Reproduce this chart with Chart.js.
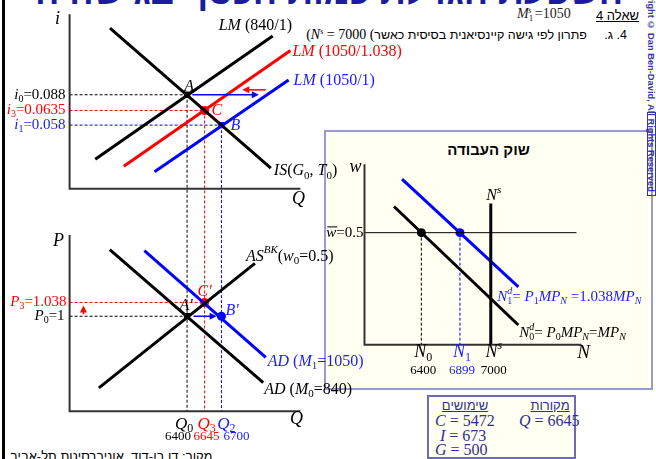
<!DOCTYPE html>
<html>
<head>
<meta charset="utf-8">
<script src="https://cdn.jsdelivr.net/npm/chart.js@4/dist/chart.umd.min.js"></script>
<style>
  body { margin: 0; width: 656px; height: 459px; overflow: hidden; background: #fff; position: relative; }
  .abs { position: absolute; white-space: nowrap; }
  #leftBar { left: 2px; top: 0; width: 3px; height: 459px; background: #000; }
  #bigTitle { left: 35px; top: -29px; width: 588px; overflow: hidden; text-align: center; direction: rtl;
              font: bold 36px "Liberation Sans", sans-serif; color: #1c1c9e; }
  #qno { left: 596px; top: 8px; font: 13px "Liberation Sans", sans-serif; text-decoration: underline; }
  #money { left: 517px; top: 6px; font: 14px "Liberation Serif", serif; color: #222; }
  #q4 { right: 29px; top: 27px; font: 12.5px "Liberation Sans", sans-serif; direction: ltr; }
  #q4 .lt { font-family: "Liberation Serif", serif; font-size: 14px; }
  sup { font-size: 8px; vertical-align: 5px; }
  sub { font-size: 9px; vertical-align: -3px; }
  #mark { left: 646px; top: -26px; writing-mode: vertical-rl; font: bold 9.3px "Liberation Sans", sans-serif; color: #3535a8; z-index: 3; }
  #markBox { left: 647px; top: 112px; width: 7px; height: 82px; border: 1px solid #3535a8; z-index: 3; }
  #labor { left: 324px; top: 130px; width: 325px; height: 256px; background: #fffff2; border: 2px solid #9a9ad0; z-index: 1; }
  #laborTitle { left: 0; top: 9px; width: 325px; text-align: center; font: bold 15px "Liberation Sans", sans-serif; }
  #uses { left: 427px; top: 395px; width: 145px; height: 60px; background: #fffff2; border: 2px solid #6b6bb8; color: #2f2f90; }
  #uses .hd { font: 13px "Liberation Sans", sans-serif; text-decoration: underline; transform: translateX(-50%); }
  #uses .v { font: 16px "Liberation Serif", serif; }
  #src { left: 10px; top: 449px; direction: rtl; font: 13px "Liberation Sans", sans-serif; }
  #c { position: absolute; left: 0; top: 0; z-index: 5; }
</style>
</head>
<body>
<div class="abs" id="leftBar"></div>
<div class="abs" id="bigTitle">השפעת הגדלת כמות הכסף בגישה הקיינסיאנית</div>
<div class="abs" id="qno">שאלה 4</div>
<div class="abs" id="money"><i>M</i><sub>1</sub><sup style="margin-left:-5px"><i>s</i></sup> =1050</div>
<div class="abs" id="q4"><span class="lt">(<i>N</i><sup>s</sup> = 7000 (</span><span dir="rtl">4. ג.&nbsp;&nbsp;&nbsp;&nbsp;&nbsp;פתרון לפי גישה קיינסיאנית בסיסית כאשר</span></div>
<div class="abs" id="labor"><div class="abs" id="laborTitle">שוק העבודה</div></div>
<div class="abs" id="mark">Copyright © Dan Ben-David, All Rights Reserved</div>
<div class="abs" id="markBox"></div>
<div class="abs" id="uses"></div>
<div class="abs" id="src">מקור: דן בן-דוד, אוניברסיטת תל-אביב</div>
<canvas id="c" width="656" height="459"></canvas>

<script>
// --- IS-LM panel (schematic units, each axis 0..10) ---
const isCurve  = [[1.75, 9.21], [8.72, 1.18]];
const lm0Curve = [[1.11, 1.69], [8.80, 8.76]];   // LM (840/1)
const lm3Curve = [[2.35, 1.29], [9.57, 7.92]];   // LM (1050/1.038)
const lm1Curve = [[3.68, 0.98], [9.49, 6.24]];   // LM (1050/1)

// --- AS-AD panel ---
const asCurve  = [[1.27, 1.33], [8.03, 8.39]];
const ad0Curve = [[1.74, 9.17], [8.39, 1.63]];   // AD (M0=840)
const ad1Curve = [[3.24, 9.11], [8.50, 3.06]];   // AD (M1=1050)

// --- labour market ---
const nd0Curve = [[1.36, 7.66], [7.09, 1.09]];
const nd1Curve = [[1.73, 9.18], [7.09, 3.21]];
const nsLine   = [[5.82, 0], [5.82, 7.83]];
const wBarLine = [[0, 6.21], [9.77, 6.21]];

// equilibria: A, C, B  (A', C', B')
const qSubs   = ['0', '3', '2'];
const qValues = [6400, 6645, 6700];
const qPos    = [5.09, 5.85, 6.58];
const iSubs   = ['0', '3', '1'];
const iValues = ['0.088', '0.0635', '0.058'];
const iPos    = [5.39, 4.49, 3.65];
const pSubs   = ['0', '3'];
const pValues = ['1', '1.038'];
const pPos    = [5.39, 6.17, 5.39];
const nSubs   = ['0', '1', 's'];
const nValues = [6400, 6899, 7000];
const nPos    = [2.62, 4.40, 5.82];
const wBar = 0.5, wBarPos = 6.21;

// arrows
const lmShiftArrow = [[5.32, 5.39], [8.2, 5.39]];
const lmBackArrow  = [[8.5, 5.67], [7.48, 5.67]];
const adShiftArrow = [[5.37, 5.39], [6.37, 5.39]];
const priceArrow   = [[0.6, 5.5], [0.6, 6.0]];

// uses / sources table
const usesNames = ['C', 'I', 'G'];
const usesValues = [5472, 673, 500];
const sourcesNames = ['Q'];
const sourcesValues = [6645];

const lineColors = ['#000000', '#ff0000', '#0000ff'];
const textColors = ['#000000', '#ff0000', '#1a1aff'];
const FAM = '"Liberation Serif", "DejaVu Serif", serif';

// table
(function () {
  const box = document.getElementById('uses');
  let html = '<div class="abs hd" style="left:36px;top:1px">שימושים</div>' +
             '<div class="abs hd" style="left:121px;top:1px">מקורות</div>';
  const lefts = [6, 11, 6];
  usesNames.forEach((n, k) => {
    html += '<div class="abs v" style="left:' + lefts[k] + 'px;top:' + (15 + k * 14.5) + 'px"><i>' + n + '</i> = ' + usesValues[k] + '</div>';
  });
  sourcesNames.forEach((n, k) => {
    html += '<div class="abs v" style="left:90px;top:' + (15 + k * 14.5) + 'px"><i>' + n + '</i> = ' + sourcesValues[k] + '</div>';
  });
  box.innerHTML = html;
})();

const W = 656, H = 459;
function range(originPx, unitPx, sizePx, inverted) {
  return inverted ? { min: -(sizePx - originPx) / unitPx, max: originPx / unitPx }
                  : { min: -originPx / unitPx, max: (sizePx - originPx) / unitPx };
}
function axisScale(r) { return { type: 'linear', display: false, min: r.min, max: r.max }; }

function pts(arr) { return arr.map(p => ({ x: p[0], y: p[1] })); }
function curve(arr, color, width, xid, yid) {
  return { data: pts(arr), borderColor: color, borderWidth: width, pointRadius: 0,
           xAxisID: xid, yAxisID: yid, tension: 0, fill: false, borderCapStyle: 'butt' };
}
function dot(x, y, color, style, xid, yid) {
  return { data: [{ x: x, y: y }], showLine: false, pointRadius: 4.5,
           pointStyle: style, backgroundColor: color, borderColor: color, borderWidth: 0,
           xAxisID: xid, yAxisID: yid };
}

function rich(ctx, x, y, parts, size, align, color) {
  const segs = parts.map(p => {
    const t = p[0], s = p[1] || '';
    const small = s.includes('_') || s.includes('^');
    const fs = small ? Math.round(size * 0.68) : size;
    const font = (s.includes('i') ? 'italic ' : '') + fs + 'px ' + FAM;
    ctx.font = font;
    const w = ctx.measureText(t).width;
    return { t, font, w, s,
      dy: s.includes('_') ? size * 0.28 : s.includes('^') ? -size * 0.36 : 0,
      adv: s.includes('o') ? 0 : w };
  });
  const total = segs.reduce((a, g) => a + g.adv, 0);
  let cx = align === 'right' ? x - total : align === 'center' ? x - total / 2 : x;
  ctx.textAlign = 'left';
  ctx.textBaseline = 'middle';
  ctx.fillStyle = color;
  segs.forEach(g => {
    ctx.font = g.font;
    ctx.fillText(g.t, cx, y + g.dy);
    if (g.s.includes('-')) ctx.fillRect(cx + 1, y - size * 0.42, g.w, 1);
    cx += g.adv;
  });
}

function seg(ctx, x1, y1, x2, y2) {
  ctx.beginPath(); ctx.moveTo(x1, y1); ctx.lineTo(x2, y2); ctx.stroke();
}
function arrow(ctx, a, b, color) {
  const ang = Math.atan2(b[1] - a[1], b[0] - a[0]), hl = 7, hw = 3.5;
  ctx.strokeStyle = color; ctx.fillStyle = color; ctx.lineWidth = 1.5; ctx.setLineDash([]);
  seg(ctx, a[0], a[1], b[0] - Math.cos(ang) * hl * 0.8, b[1] - Math.sin(ang) * hl * 0.8);
  ctx.beginPath();
  ctx.moveTo(b[0], b[1]);
  ctx.lineTo(b[0] - Math.cos(ang) * hl - Math.sin(ang) * hw, b[1] - Math.sin(ang) * hl + Math.cos(ang) * hw);
  ctx.lineTo(b[0] - Math.cos(ang) * hl + Math.sin(ang) * hw, b[1] - Math.sin(ang) * hl - Math.cos(ang) * hw);
  ctx.closePath(); ctx.fill();
}

const diagram = {
  id: 'diagram',
  beforeDatasetsDraw(chart) {
    const ctx = chart.ctx, s = chart.scales;
    ctx.save();
    ctx.lineWidth = 1;
    ctx.setLineDash([3, 2]);
    const x0 = s.x.getPixelForValue(0);
    for (let k = 0; k < 3; k++) {
      ctx.strokeStyle = lineColors[k];
      const xq = s.x.getPixelForValue(qPos[k]);
      const yi = s.yI.getPixelForValue(iPos[k]);
      seg(ctx, x0, yi, xq, yi);
      seg(ctx, xq, yi, xq, s.yP.getPixelForValue(0));
    }
    for (let k = 0; k < 2; k++) {
      ctx.strokeStyle = lineColors[k];
      const yp = s.yP.getPixelForValue(pPos[k]);
      seg(ctx, x0, yp, s.x.getPixelForValue(qPos[k]), yp);
    }
    const labelCols = ['#000000', '#0000ff'];
    for (let k = 0; k < 2; k++) {
      ctx.strokeStyle = labelCols[k];
      const xn = s.xN.getPixelForValue(nPos[k]);
      seg(ctx, xn, s.yW.getPixelForValue(wBarPos), xn, s.yW.getPixelForValue(0));
    }
    ctx.restore();
  },
  afterDatasetsDraw(chart) {
    const ctx = chart.ctx, s = chart.scales;
    const P = (xid, yid, u, v) => [s[xid].getPixelForValue(u), s[yid].getPixelForValue(v)];
    const T = (pt, dx, dy, parts, size, align, color) => rich(ctx, pt[0] + dx, pt[1] + dy, parts, size, align, color || '#000');
    ctx.save();

    // arrows
    arrow(ctx, P('x', 'yI', ...lmShiftArrow[0]), P('x', 'yI', ...lmShiftArrow[1]), '#0000ff');
    arrow(ctx, P('x', 'yI', ...lmBackArrow[0]), P('x', 'yI', ...lmBackArrow[1]), '#ff0000');
    arrow(ctx, P('x', 'yP', ...adShiftArrow[0]), P('x', 'yP', ...adShiftArrow[1]), '#0000ff');
    arrow(ctx, P('x', 'yP', ...priceArrow[0]), P('x', 'yP', ...priceArrow[1]), '#ff0000');

    // IS-LM
    T(P('x', 'yI', 0, 10), -12, 5, [['i', 'i']], 18, 'center');
    T(P('x', 'yI', 10, 0), -2, 10, [['Q', 'i']], 18, 'center');
    T(P('x', 'yI', ...lm0Curve[1]), -54, -10, [['LM', 'i'], [' (840/1)']], 16, 'left', textColors[0]);
    T(P('x', 'yI', ...lm3Curve[1]), 2, 1, [['LM', 'i'], [' (1050/1.038)']], 16, 'left', textColors[1]);
    T(P('x', 'yI', ...lm1Curve[1]), 5, 1, [['LM', 'i'], [' (1050/1)']], 16, 'left', textColors[2]);
    T(P('x', 'yI', ...isCurve[1]), 3, 3, [['IS', 'i'], ['('], ['G', 'i'], ['0', '_'], [', '], ['T', 'i'], ['0', '_'], [')']], 16, 'left');
    const ptNames = ['A', 'C', 'B'];
    T(P('x', 'yI', qPos[0], iPos[0]), 2, -8, [[ptNames[0], 'i']], 16, 'center', textColors[0]);
    T(P('x', 'yI', qPos[1], iPos[1]), 7, 0, [[ptNames[1], 'i']], 16, 'left', textColors[1]);
    T(P('x', 'yI', qPos[2], iPos[2]), 9, 1, [[ptNames[2], 'i']], 16, 'left', textColors[2]);
    for (let k = 0; k < 3; k++) {
      T(P('x', 'yI', 0, iPos[k]), -4, 0, [['i', 'i'], [iSubs[k], '_'], ['=' + iValues[k]]], 15, 'right', textColors[k]);
    }

    // AS-AD
    T(P('x', 'yP', 0, 10), -11, 6, [['P', 'i']], 18, 'center');
    T(P('x', 'yP', 10, 0), -4, 8, [['Q', 'i']], 18, 'center');
    T(P('x', 'yP', ...asCurve[1]), -9, -7, [['AS', 'i'], ['BK', '^i'], ['('], ['w', 'i'], ['0', '_'], ['=0.5)']], 16, 'left');
    T(P('x', 'yP', ...ad1Curve[1]), 2, 4, [['AD', 'i'], [' ('], ['M', 'i'], ['1', '_'], ['=1050)']], 16, 'left', textColors[2]);
    T(P('x', 'yP', ...ad0Curve[1]), 1, 7, [['AD', 'i'], [' ('], ['M', 'i'], ['0', '_'], ['=840)']], 16, 'left');
    T(P('x', 'yP', qPos[0], pPos[0]), -1, -10, [["A'", 'i']], 16, 'center', textColors[0]);
    T(P('x', 'yP', qPos[1], pPos[1]), 0, -11, [["C'", 'i']], 16, 'center', textColors[1]);
    T(P('x', 'yP', qPos[2], pPos[2]), 4, -5, [["B'", 'i']], 16, 'left', textColors[2]);
    const pOff = [-5, -3];
    for (let k = 0; k < 2; k++) {
      T(P('x', 'yP', 0, pPos[k]), pOff[k], 0, [['P', 'i'], [pSubs[k], '_'], ['=' + pValues[k]]], 15, 'right', textColors[k]);
    }
    const qOff = [-3, 2, 5], numOff = [-9, 2, 15];
    for (let k = 0; k < 3; k++) {
      T(P('x', 'yP', qPos[k], 0), qOff[k], 13, [['Q', 'i'], [qSubs[k], '_']], 17, 'center', textColors[k]);
      T(P('x', 'yP', qPos[k], 0), numOff[k], 25, [[String(qValues[k])]], 13, 'center', textColors[k]);
    }

    // labour market
    T(P('xN', 'yW', 0, 10), -9, 3, [['w', 'i']], 18, 'center');
    T(P('xN', 'yW', 10, 0), 2, 8, [['N', 'i']], 19, 'center');
    T(P('xN', 'yW', ...nsLine[1]), 3, -8, [['N', 'i'], ['s', '^i']], 16, 'center');
    T(P('xN', 'yW', 0, wBarPos), -1, 0, [['w', 'i-'], ['=' + wBar]], 15, 'right');
    const nCols = [textColors[0], textColors[2], textColors[0]];
    const nOff = [2, 2, 3];
    for (let k = 0; k < 3; k++) {
      T(P('xN', 'yW', nPos[k], 0), nOff[k], 8, [['N', 'i'], [nSubs[k], nSubs[k] === 's' ? '^i' : '_']], 18, 'center', nCols[k]);
      T(P('xN', 'yW', nPos[k], 0), nOff[k], 26, [[String(nValues[k])]], 13, 'center', nCols[k]);
    }
    T(P('xN', 'yW', ...nd1Curve[1]), -21, 10,
      [['N', 'i'], ['1', '_o'], ['d', '^i'], ['= '], ['P', 'i'], ['1', '_'], ['MP', 'i'], ['N', '_i'], [' =1.038'], ['MP', 'i'], ['N', '_i']],
      15, 'left', textColors[2]);
    T(P('xN', 'yW', ...nd0Curve[1]), 1, 8,
      [['N', 'i'], ['0', '_o'], ['d', '^i'], ['= '], ['P', 'i'], ['0', '_'], ['MP', 'i'], ['N', '_i'], ['='], ['MP', 'i'], ['N', '_i']],
      15, 'left');
    ctx.restore();
  }
};

const AX = '#333333';
new Chart(document.getElementById('c'), {
  type: 'line',
  data: {
    datasets: [
      // axes
      curve([[0, 10], [0, 0], [10, 0]], AX, 2, 'x', 'yI'),
      curve([[0, 10], [0, 0], [10, 0]], AX, 2, 'x', 'yP'),
      curve([[0, 10], [0, 0], [10, 0]], AX, 2, 'xN', 'yW'),
      // IS-LM
      curve(isCurve, lineColors[0], 3, 'x', 'yI'),
      curve(lm0Curve, lineColors[0], 3, 'x', 'yI'),
      curve(lm3Curve, lineColors[1], 3, 'x', 'yI'),
      curve(lm1Curve, lineColors[2], 3, 'x', 'yI'),
      dot(qPos[0], iPos[0], lineColors[0], 'rect', 'x', 'yI'),
      dot(qPos[1], iPos[1], lineColors[1], 'circle', 'x', 'yI'),
      dot(qPos[2], iPos[2], lineColors[2], 'rect', 'x', 'yI'),
      // AS-AD
      curve(asCurve, lineColors[0], 3, 'x', 'yP'),
      curve(ad0Curve, lineColors[0], 3, 'x', 'yP'),
      curve(ad1Curve, lineColors[2], 3, 'x', 'yP'),
      dot(qPos[0], pPos[0], lineColors[0], 'rect', 'x', 'yP'),
      dot(qPos[1], pPos[1], lineColors[1], 'circle', 'x', 'yP'),
      dot(qPos[2], pPos[2], lineColors[2], 'circle', 'x', 'yP'),
      // labour market
      curve(wBarLine, '#000000', 1, 'xN', 'yW'),
      curve(nsLine, '#000000', 3, 'xN', 'yW'),
      curve(nd0Curve, lineColors[0], 3, 'xN', 'yW'),
      curve(nd1Curve, lineColors[2], 3, 'xN', 'yW'),
      dot(nPos[0], wBarPos, '#000000', 'circle', 'xN', 'yW'),
      dot(nPos[1], wBarPos, lineColors[2], 'circle', 'xN', 'yW')
    ]
  },
  options: {
    responsive: false,
    animation: false,
    devicePixelRatio: 1,
    layout: { padding: 0 },
    plugins: { legend: { display: false }, tooltip: { enabled: false }, title: { display: false } },
    scales: {
      x:  axisScale(range(66, 23.4, W)),
      yI: axisScale(range(188, 17.8, H, true)),
      yP: axisScale(range(415, 18, H, true)),
      xN: axisScale(range(365, 22, W)),
      yW: axisScale(range(347, 18.4, H, true))
    }
  },
  plugins: [diagram]
});
</script>
</body>
</html>
